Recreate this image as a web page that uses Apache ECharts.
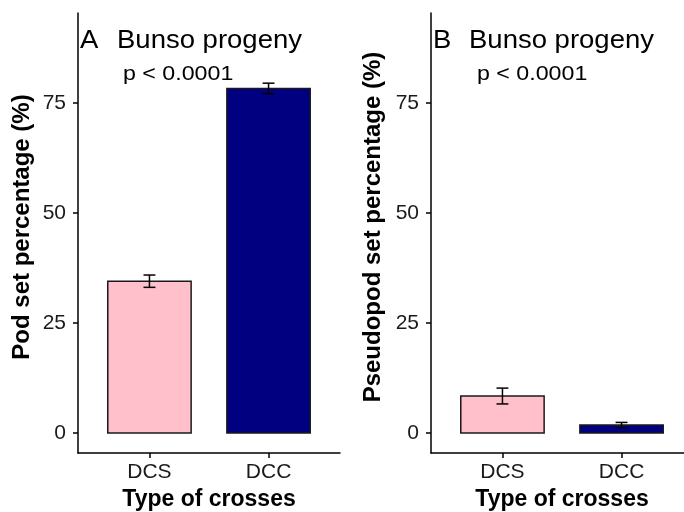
<!DOCTYPE html>
<html><head><meta charset="utf-8">
<script src="https://cdn.jsdelivr.net/npm/echarts@6/dist/echarts.min.js"></script>
<style>html,body{margin:0;padding:0;background:#fff}#c{width:684px;height:512px}</style>
</head><body><div id="c"></div>
<script>
const categories = ['DCS', 'DCC'];
const catPos = [1, 2];
const podSet = [34.5, 78.3];
const podSE = [1.4, 1.2];
const pseudoSet = [8.4, 1.8];
const pseudoSE = [1.8, 0.6];
const yTicks = [0, 25, 50, 75];
const barColors = ['#FFC0CB', '#000080'];

const FONT = '"Liberation Sans", Arial, sans-serif';
const chart = echarts.init(document.getElementById('c'), null, {renderer: 'canvas'});

function barSeries(idx, vals) {
  return {
    type: 'custom', xAxisIndex: idx, yAxisIndex: idx,
    data: vals.map((v, i) => [catPos[i], v, i]),
    renderItem: function (params, api) {
      const x = api.value(0), v = api.value(1), i = api.value(2);
      const p1 = api.coord([x - 0.35, v]);
      const p2 = api.coord([x + 0.35, 0]);
      return {type: 'rect', shape: {x: p1[0], y: p1[1], width: p2[0] - p1[0], height: p2[1] - p1[1]},
        style: {fill: barColors[i], stroke: '#1a1a1a', lineWidth: 1.5}};
    }
  };
}
function errSeries(idx, vals, se) {
  return {
    type: 'custom', xAxisIndex: idx, yAxisIndex: idx, z: 5,
    data: vals.map((v, i) => [catPos[i], v - se[i], v + se[i]]),
    renderItem: function (params, api) {
      const x = api.value(0), lo = api.value(1), hi = api.value(2);
      const a = api.coord([x, lo]), b = api.coord([x, hi]);
      const l = api.coord([x - 0.05, lo]), r = api.coord([x + 0.05, lo]);
      const st = {stroke: '#000', lineWidth: 1.5};
      return {type: 'group', children: [
        {type: 'line', shape: {x1: a[0], y1: a[1], x2: b[0], y2: b[1]}, style: st},
        {type: 'line', shape: {x1: l[0], y1: a[1], x2: r[0], y2: a[1]}, style: st},
        {type: 'line', shape: {x1: l[0], y1: b[1], x2: r[0], y2: b[1]}, style: st}
      ]};
    }
  };
}
function xAx(idx) {
  return {
    type: 'value', gridIndex: idx, min: 0.4, max: 2.6,
    name: 'Type of crosses', nameLocation: 'middle', nameGap: 35,
    nameTextStyle: {fontFamily: FONT, fontSize: 23, fontWeight: 'bold', color: '#000'},
    axisLine: {show: true, onZero: false, lineStyle: {color: '#000', width: 1.5}},
    axisTick: {show: true, length: 5, customValues: catPos, lineStyle: {color: '#000', width: 1.5}},
    axisLabel: {customValues: catPos, margin: 9, fontFamily: FONT, fontSize: 21, color: '#1a1a1a',
      formatter: v => categories[catPos.indexOf(Math.round(v))] || ''},
    splitLine: {show: false}
  };
}
function yAx(idx, name, gap) {
  return {
    type: 'value', gridIndex: idx, min: -4.55, max: 95.45,
    name: name, nameLocation: 'middle', nameGap: gap, nameRotate: 90,
    nameTextStyle: {fontFamily: FONT, fontSize: 24, fontWeight: 'bold', color: '#000', padding: [0, 0, 0, 12]},
    axisLine: {show: true, onZero: false, lineStyle: {color: '#000', width: 1.5}},
    axisTick: {show: true, length: 5, customValues: yTicks, lineStyle: {color: '#000', width: 1.5}},
    axisLabel: {customValues: yTicks, margin: 12, fontFamily: FONT, fontSize: 21, color: '#1a1a1a'},
    splitLine: {show: false}
  };
}
const txt = (x, y, s, size, sx) => ({type: 'text', x: x, y: y, scaleX: sx,
  style: {text: s, fontFamily: FONT, fontSize: size, fill: '#000', verticalAlign: 'top', align: 'left'}});

chart.setOption({
  animation: false,
  grid: [
    {left: 78, top: 13, width: 262, height: 440, outerBoundsMode: 'none'},
    {left: 431, top: 13, width: 262, height: 440, outerBoundsMode: 'none'}
  ],
  xAxis: [xAx(0), xAx(1)],
  yAxis: [yAx(0, 'Pod set percentage (%)', 44), yAx(1, 'Pseudopod set percentage (%)', 46)],
  series: [barSeries(0, podSet), errSeries(0, podSet, podSE), barSeries(1, pseudoSet), errSeries(1, pseudoSet, pseudoSE)],
  graphic: [
    txt(80, 29, 'A', 25, 1.1), txt(117, 29, 'Bunso progeny', 25, 1.1), txt(123, 64, 'p < 0.0001', 20, 1.16),
    txt(433, 29, 'B', 25, 1.1), txt(469, 29, 'Bunso progeny', 25, 1.1), txt(477, 64, 'p < 0.0001', 20, 1.16)
  ]
});
</script></body></html>
